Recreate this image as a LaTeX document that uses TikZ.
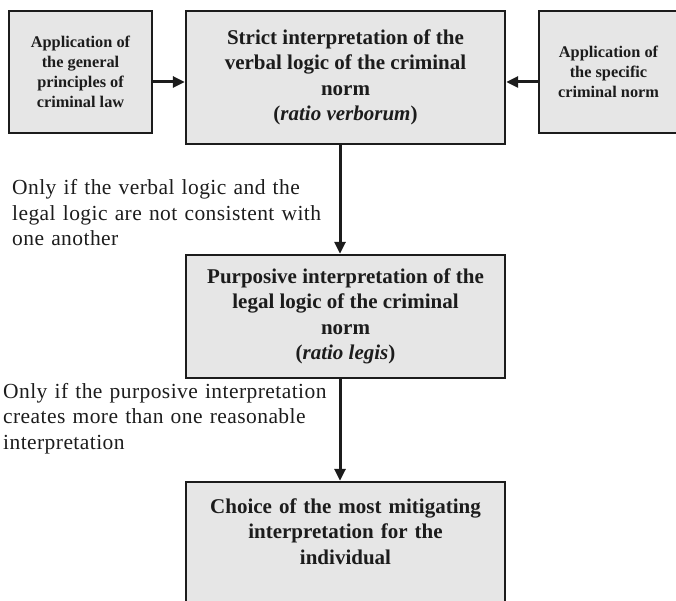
\documentclass[tikz,border=0pt]{standalone}
\usepackage{fontspec}
\setmainfont{Liberation Serif}
\newfontfamily\notefont[LetterSpace=2]{Liberation Serif}
\usetikzlibrary{arrows.meta}
\definecolor{boxfill}{RGB}{230,230,230}
\definecolor{ink}{RGB}{28,28,28}
\begin{document}
\begin{tikzpicture}[x=1pt,y=-1pt,
  box/.style={draw=ink, line width=2.4pt, fill=boxfill, align=center, inner sep=0pt, text=ink},
  bigtext/.style={font=\bfseries\fontsize{21}{25.5}\selectfont},
  smalltext/.style={font=\bfseries\fontsize{16.3}{20}\selectfont},
  note/.style={font=\notefont\fontsize{21.5}{25.5}\selectfont, text width=340pt,
    align=left, anchor=base west, inner sep=0pt, text=ink},
  arr/.style={draw=ink, line width=3pt, -{Triangle[length=12pt,width=11pt]}}
]
\useasboundingbox (0,0) rectangle (676,601);

% top row
\node[box, smalltext, minimum width=143pt, minimum height=122pt] (general) at (80.5,72)
  {Application of\\the general\\principles of\\criminal law};
\node[box, bigtext, minimum width=319pt, minimum height=133pt] (strict) at (345.5,77.5)
  {Strict interpretation of the\\verbal logic of the criminal\\norm\\(\textit{ratio verborum})};
\node[box, smalltext, minimum width=139pt, minimum height=122pt] (specific) at (608.5,72)
  {Application of\\the specific\\criminal norm};

% second and third stages
\node[box, bigtext, minimum width=319pt, minimum height=123pt] (purposive) at (345.5,316.5)
  {Purposive interpretation of the\\legal logic of the criminal\\norm\\(\textit{ratio legis})};
\node[box, minimum width=319pt, minimum height=133pt] (choice) at (345.5,548.5) {};
\node[bigtext, text=ink, text width=319pt, align=center, inner sep=0pt, anchor=base]
  (choicetext) at (345.5,513)
  {Choice of the most mitigating\\interpretation for the\\individual};

% conditions
\node[note] (cond1) at (12,195)
  {Only if the verbal logic and the\\legal logic are not consistent with\\one another};
\node[note] (cond2) at (3,398)
  {Only if the purposive interpretation\\creates more than one reasonable\\interpretation};

% connectors
\coordinate (row) at (0,82);
\coordinate (spine) at (340,0);
\draw[arr] (general.east |- row) -- (strict.west |- row);
\draw[arr] (specific.west |- row) -- (strict.east |- row);
\draw[arr] (strict.south -| spine) -- (purposive.north -| spine);
\draw[arr] (purposive.south -| spine) -- (choice.north -| spine);
\end{tikzpicture}
\end{document}
